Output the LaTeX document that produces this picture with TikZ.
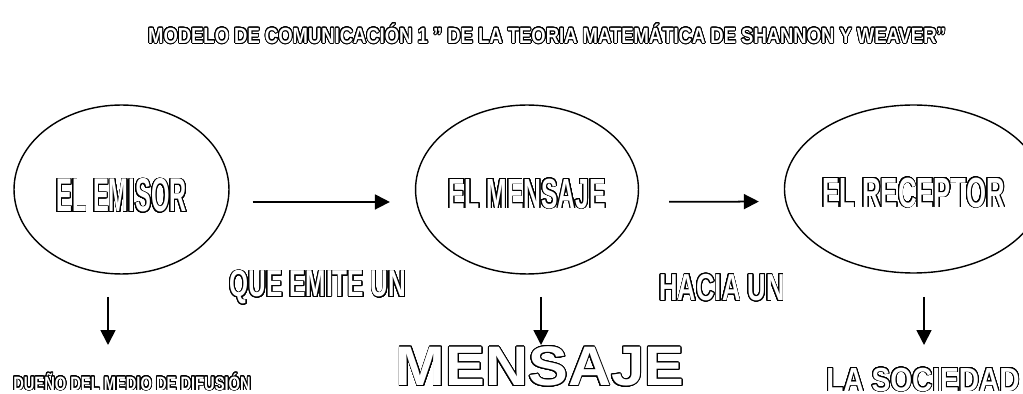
\documentclass[tikz,border=0pt]{standalone}
\usepackage{fontspec}
\setmainfont{Liberation Sans}
\usepackage{contour}
\usetikzlibrary{shapes.geometric,arrows.meta}
\contourlength{0.5pt}
\contournumber{32}
% letra hueca: contorno negro y relleno blanco
\newcommand{\hueca}[2]{{\color{white}\contour{black}{\scalebox{#1}[1]{\bfseries #2}}}}

\begin{document}
\begin{tikzpicture}[x=0.02cm,y=-0.02cm,
	globo/.style={draw,ellipse,line width=0.8pt,inner sep=0pt,text depth=0pt},
	flecha/.style={-{Triangle[length=8.5pt,width=8.5pt]},line width=1pt},
	texto/.style={inner sep=0pt}]
	\useasboundingbox (0,0) rectangle (1023,394);
	
	\node[texto] (titulo) at (547,34) {\fontsize{12.5}{14}\selectfont\hueca{0.84}{MODELO DE COMUNICACIÓN 1 " DE LA TEORIA MATEMÁTICA DE SHANNON Y WEAVER"}};
	
	\node[globo,minimum width=4.3cm,minimum height=3.38cm,text height=25.5pt] (emisor) at (121.5,189.5) {\fontsize{27}{30}\selectfont\hueca{0.5}{EL EMISOR}};
	\node[globo,minimum width=4.24cm,minimum height=3.38cm,text height=21.2pt] (mensaje) at (527,189.5) {\fontsize{24}{27}\selectfont\hueca{0.585}{EL MENSAJE}};
	\node[globo,minimum width=4.32cm,minimum height=3.36cm,text height=20.6pt] (receptor) at (913.5,189) {\fontsize{24}{27}\selectfont\hueca{0.61}{EL RECEPTOR}};
	
	\draw[flecha,shorten <=13pt,shorten >=14.2pt] ([yshift=-7.1pt]emisor.east) -- ([yshift=-7.1pt]mensaje.west);
	\draw[flecha,shorten <=17pt,shorten >=14.2pt] ([yshift=-7.1pt]mensaje.east) -- ([yshift=-7.1pt]receptor.west);
	
	\node[texto] (que) at (318,288) {\fontsize{21.4}{24}\selectfont\hueca{0.65}{QUE EMITE UN}};
	\node[texto] (hacia) at (722,288) {\fontsize{21.4}{24}\selectfont\hueca{0.68}{HACIA UN}};
	
	\coordinate (b1) at (108,297);
	\coordinate (p1) at (108,345);
	\coordinate (b2) at (541,297);
	\coordinate (p2) at (541,345);
	\coordinate (b3) at (924,297);
	\coordinate (p3) at (924,345);
	\draw[flecha] (b1) -- (p1);
	\draw[flecha] (b2) -- (p2);
	\draw[flecha] (b3) -- (p3);
	
	\node[texto] (duenho) at (132,382) {\fontsize{11}{13}\selectfont\hueca{0.76}{DUEÑO DEL MEDIO DE DIFUSIÓN}};
	\node[texto] (grande) at (540,367) {\fontsize{31.7}{34}\selectfont\hueca{1.07}{MENSAJE}};
	\node[texto] (sociedad) at (923,380) {\fontsize{19}{22}\selectfont\hueca{0.84}{LA SOCIEDAD}};
\end{tikzpicture}
\end{document}
